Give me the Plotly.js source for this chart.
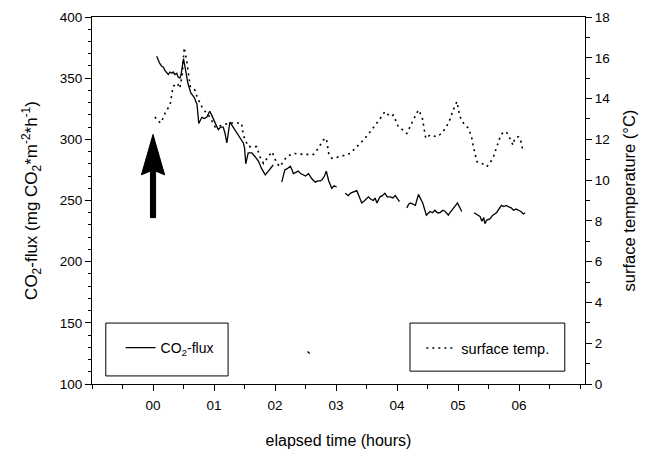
<!DOCTYPE html>
<html>
<head>
<meta charset="utf-8">
<script src="https://cdn.plot.ly/plotly-3.0.1.min.js"></script>
<style>html,body{margin:0;padding:0;background:#fff;}#chart{width:651px;height:457px;}</style>
</head>
<body>
<div id="chart"></div>
<script>
// ---- data (elapsed time in hours; null = gap in record) ----
var co2Time = [0.06,0.09,0.11,0.14,0.17,0.20,0.22,0.25,0.28,0.31,0.33,0.36,0.39,0.41,0.44,0.46,0.50,0.52,0.55,0.57,0.60,0.62,0.65,0.68,0.70,0.72,0.75,0.78,0.80,0.84,0.88,0.91,0.93,0.96,1.00,1.04,1.07,1.11,1.15,1.18,1.21,1.23,1.26,1.30,1.34,1.38,1.43,1.46,1.48,1.50,1.52,1.56,1.62,1.67,1.73,1.78,1.84,1.89,1.93,1.97,
  null,
  2.11,2.14,2.16,2.20,2.25,2.28,2.30,2.34,2.38,2.42,2.46,2.50,2.55,2.60,2.66,2.70,2.74,2.77,2.81,2.84,2.88,2.93,2.97,3.01,
  null,
  3.15,3.18,3.20,3.24,3.28,3.34,3.38,3.42,3.47,3.53,3.57,3.61,3.64,3.67,3.72,3.76,3.80,3.84,3.89,3.93,3.97,4.01,4.04,
  null,
  4.16,4.19,4.22,4.26,4.30,4.35,4.39,4.42,4.45,4.48,4.54,4.58,4.62,4.66,4.70,4.75,4.79,4.84,4.88,4.92,4.96,4.99,5.03,5.06,
  null,
  5.26,5.30,5.33,5.36,5.39,5.42,5.44,5.47,5.52,5.57,5.63,5.67,5.71,5.75,5.79,5.82,5.87,5.91,5.95,5.99,6.03,6.07,6.10,
  null,
  2.53,2.57];
var co2Flux = [368,364,362,360,359,356,355,353,355,354,355,353,354,351,350,353,366,359,352,346,341,338,336,334,331,329,313,316,318,317,318,321,323,320,315,311,308,310,310,305,297,305,314,311,308,304,301,298,297,293,280,289,289,286,282,276,271,274,277,279,
  null,
  265,271,275,276,278,275,272,273,274,272,271,270,272,268,265,266,266,267,270,274,266,260,262,261,
  null,
  256,255,254,256,257,258,253,248,250,253,251,250,252,248,253,254,256,253,253,252,254,251,249,
  null,
  244,247,248,247,246,255,251,248,243,238,241,240,242,240,240,242,241,238,241,244,246,248,244,241,
  null,
  240,239,238,237,233,236,231,234,235,238,240,243,246,245,246,245,244,242,243,242,241,239,240,
  null,
  126.5,125];

var tempTime = [0.03,0.08,0.13,0.20,0.28,0.33,0.40,0.44,0.48,0.51,0.55,0.61,0.65,0.69,0.72,0.80,0.87,0.93,1.02,1.08,1.13,1.20,1.26,1.32,1.37,1.45,1.48,1.56,1.63,1.70,1.75,1.81,1.89,1.95,2.03,2.08,2.19,2.30,2.46,2.63,2.71,2.79,2.84,2.88,2.93,3.07,3.23,3.34,3.45,3.56,3.67,3.73,3.80,3.89,3.94,4.02,4.10,4.16,4.24,4.30,4.35,4.41,4.47,4.54,4.65,4.73,4.81,4.87,4.92,4.98,5.03,5.09,5.17,5.22,5.25,5.31,5.39,5.47,5.52,5.58,5.63,5.69,5.74,5.80,5.85,5.90,5.93,5.99,6.03,6.06];
var surfaceTemp = [13.1,12.9,12.8,13.3,13.7,14.6,14.75,14.5,15.2,16.5,15.9,14.6,14.5,14.4,14.1,13.6,13.3,13.1,12.6,12.65,12.7,12.75,12.8,12.8,12.8,12.8,12.2,11.64,11.64,11.64,11.15,10.82,11.15,11.39,10.82,10.66,11.15,11.31,11.26,11.26,11.56,11.97,12.05,11.31,11.07,11.15,11.31,11.64,11.97,12.37,12.79,13.05,13.36,13.11,13.19,12.62,12.45,12.29,12.79,13.19,13.44,13.11,12.05,12.21,12.13,12.29,12.62,13.0,13.44,13.85,13.11,12.79,12.54,12.13,11.64,10.90,10.82,10.66,10.82,11.15,11.64,12.13,12.37,12.33,12.05,11.72,12.05,12.13,11.89,11.48];

var xTickVals = [0,1,2,3,4,5,6];
var xTickText = ["00","01","02","03","04","05","06"];

// arrow marking the start of the treatment (time, flux from, flux to)
var arrowTime = 0;
var arrowFrom = 236;
var arrowTo = 304;

// ---- layout ----
var FONT = '"Liberation Sans", Arial, Helvetica, sans-serif';
var hw = 0.19, sw = 0.042, headBase = 271, notch = 274;
var arrowPath = 'M' + arrowTime + ',' + arrowTo +
  ' L' + (arrowTime - hw) + ',' + headBase +
  ' L' + (arrowTime - sw) + ',' + notch +
  ' L' + (arrowTime - sw) + ',' + arrowFrom +
  ' L' + (arrowTime + sw) + ',' + arrowFrom +
  ' L' + (arrowTime + sw) + ',' + notch +
  ' L' + (arrowTime + hw) + ',' + headBase + ' Z';

var traces = [
  {x: co2Time, y: co2Flux, type: 'scatter', mode: 'lines', name: 'CO<sub>2</sub>-flux',
   line: {color: '#000', width: 1.3}, connectgaps: false, legend: 'legend', hoverinfo: 'skip'},
  {x: tempTime, y: surfaceTemp, type: 'scatter', mode: 'lines', name: 'surface temp.', yaxis: 'y2',
   line: {color: '#000', width: 1.6, dash: '2px,4px'}, legend: 'legend2', hoverinfo: 'skip'}
];

var layout = {
  width: 651, height: 457,
  margin: {l: 92, r: 66, t: 17, b: 73},
  paper_bgcolor: '#fff', plot_bgcolor: '#fff',
  font: {family: FONT, size: 13.5, color: '#000'},
  showlegend: true,
  xaxis: {
    range: [-1, 7.08], tickvals: xTickVals, ticktext: xTickText,
    showline: true, linecolor: '#000', linewidth: 1, mirror: true,
    ticks: 'outside', ticklen: 6, tickcolor: '#000', showgrid: false, zeroline: false,
    minor: {dtick: 0.5, tick0: 0, ticks: 'outside', ticklen: 4, tickcolor: '#000', showgrid: false},
    tickfont: {size: 13.5}, ticklabelstandoff: 3,
    title: {text: 'elapsed time (hours)', font: {size: 16}, standoff: 22},
    automargin: false
  },
  yaxis: {
    range: [100, 400], dtick: 50, tick0: 100,
    showline: true, linecolor: '#000', linewidth: 1,
    ticks: 'outside', ticklen: 6, tickcolor: '#000', showgrid: false, zeroline: false,
    minor: {dtick: 10, ticks: 'outside', ticklen: 3, tickcolor: '#000', showgrid: false},
    tickfont: {size: 13.5},
    title: {text: 'CO<sub>2</sub>-flux (mg CO<sub>2</sub>*m<sup>-2</sup>*h<sup>-1</sup>)', font: {size: 17}, standoff: 17},
    automargin: false
  },
  yaxis2: {
    range: [0, 18], dtick: 2, tick0: 0, overlaying: 'y', side: 'right',
    showline: true, linecolor: '#000', linewidth: 1,
    ticks: 'outside', ticklen: 6, tickcolor: '#000', showgrid: false, zeroline: false,
    minor: {dtick: 1, ticks: 'outside', ticklen: 4, tickcolor: '#000', showgrid: false},
    tickfont: {size: 13.5},
    title: {text: 'surface temperature (°C)', font: {size: 16.5}, standoff: 14},
    automargin: false
  },
  legend: {x: 0.058, y: 0.098, xanchor: 'left', yanchor: 'middle', bgcolor: 'rgba(0,0,0,0)',
           borderwidth: 0, font: {size: 14}},
  legend2: {x: 0.668, y: 0.098, xanchor: 'left', yanchor: 'middle', bgcolor: 'rgba(0,0,0,0)',
            borderwidth: 0, font: {size: 14.5}},
  shapes: [
    {type: 'rect', xref: 'paper', yref: 'paper', x0: 0.028, x1: 0.276, y0: 0.022, y1: 0.166,
     line: {color: '#000', width: 1}},
    {type: 'rect', xref: 'paper', yref: 'paper', x0: 0.645, x1: 0.959, y0: 0.035, y1: 0.166,
     line: {color: '#000', width: 1}},
    {type: 'path', xref: 'x', yref: 'y', path: arrowPath, fillcolor: '#000', line: {color: '#000', width: 1}}
  ]
};

Plotly.newPlot('chart', traces, layout, {displayModeBar: false, staticPlot: true});
</script>
</body>
</html>
